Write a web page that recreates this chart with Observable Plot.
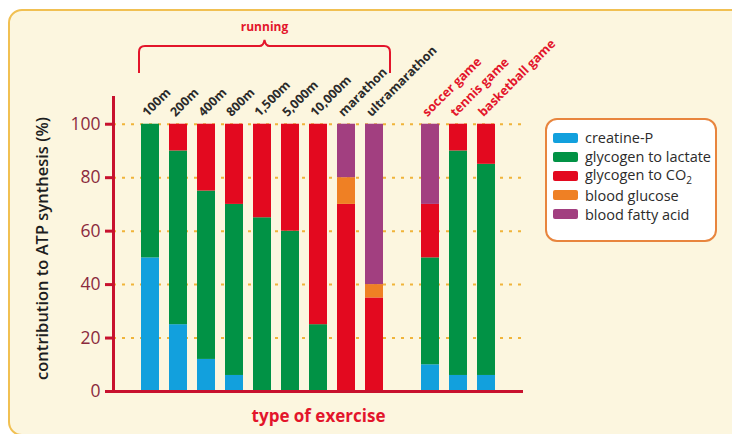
<!DOCTYPE html>
<html>
<head>
<meta charset="utf-8">
<script src="https://cdn.jsdelivr.net/npm/d3@7"></script>
<script src="https://cdn.jsdelivr.net/npm/@observablehq/plot@0.6"></script>
<style>
  html, body { margin: 0; padding: 0; background: #ffffff; width: 732px; height: 434px; overflow: hidden; font-family: "Open Sans", sans-serif; }
  #panel { position: absolute; left: 8px; top: 9px; width: 740px; height: 423px; border: 2px solid #F1C052; border-radius: 14px; background: #FCF6DF; }
  #chart { position: absolute; left: 0; top: 0; }
  #legend { position: absolute; left: 545px; top: 118px; width: 172px; height: 124px; border: 2px solid #E8853E; border-radius: 12px; background: #ffffff; box-sizing: border-box; padding-top: 8px; padding-left: 6px; }
  .item { display: flex; align-items: center; height: 19.2px; font-size: 14.5px; color: #2b2b2b; white-space: nowrap; }
  .sw { width: 25px; height: 10px; border-radius: 2px; margin-right: 7px; flex: none; }
</style>
</head>
<body>
<div id="panel"></div>
<div id="chart"></div>
<div id="legend"></div>
<script>
// ---- data ----
const activities = ["100m","200m","400m","800m","1,500m","5,000m","10,000m","marathon","ultramarathon","soccer game","tennis game","basketball game"];
const sports = ["soccer game","tennis game","basketball game"];
const xDomain = ["100m","200m","400m","800m","1,500m","5,000m","10,000m","marathon","ultramarathon"," ","soccer game","tennis game","basketball game"];
const sources = ["creatine-P","glycogen to lactate","glycogen to CO2","blood glucose","blood fatty acid"];
const sourceLabels = ["creatine-P","glycogen to lactate","glycogen to CO<sub style=\"font-size:10px\">2</sub>","blood glucose","blood fatty acid"];
const colors = ["#12A0DD","#019245","#E3091F","#EF8024","#A23F80"];
const creatineP      = [50, 25, 12,  6,  0,  0,  0,  0,  0, 10,  6,  6];
const glycogenLactate= [50, 65, 63, 64, 65, 60, 25,  0,  0, 40, 84, 79];
const glycogenCO2    = [ 0, 10, 25, 30, 35, 40, 75, 70, 35, 20, 10, 15];
const bloodGlucose   = [ 0,  0,  0,  0,  0,  0,  0, 10,  5,  0,  0,  0];
const bloodFattyAcid = [ 0,  0,  0,  0,  0,  0,  0, 20, 60, 30,  0,  0];
const yTicks = [0, 20, 40, 60, 80, 100];
const gridTicks = [20, 40, 60, 80, 100];

const series = [creatineP, glycogenLactate, glycogenCO2, bloodGlucose, bloodFattyAcid];
const rows = [];
activities.forEach((a, i) => {
  series.forEach((s, j) => {
    if (s[i] > 0) rows.push({activity: a, source: sources[j], value: s[i]});
  });
});

const red = "#C8112E";
const chart = Plot.plot({
  width: 732,
  height: 434,
  marginLeft: 113,
  marginRight: 209,
  marginTop: 97,
  marginBottom: 43,
  style: {background: "transparent", fontFamily: "Open Sans, sans-serif", overflow: "visible"},
  x: {type: "band", domain: xDomain, paddingInner: 0.366, paddingOuter: 0.897, axis: null},
  y: {domain: [0, 110], ticks: yTicks, tickSize: 8, tickPadding: 5, label: null},
  color: {domain: sources, range: colors},
  marks: [
    Plot.ruleY(gridTicks, {stroke: "#F0B43A", strokeWidth: 2, strokeDasharray: "3,6"}),
    Plot.barY(rows, {x: "activity", y: "value", fill: "source", order: sources}),
    Plot.ruleY([0], {stroke: red, strokeWidth: 3}),
    Plot.frame({anchor: "left", stroke: red, strokeWidth: 3}),
    Plot.text(activities, {x: d => d, y: 100, dx: -3, dy: -7, rotate: -45, textAnchor: "start", lineAnchor: "bottom",
      fontSize: 12.5, fontWeight: "bold", fill: d => sports.includes(d) ? "#E3152B" : "#2a2a2a"}),
    Plot.text(["contribution to ATP synthesis (%)"], {frameAnchor: "left", textAnchor: "middle", dx: -71, dy: 4, rotate: -90, fontSize: 16.5, fontWeight: 600, fill: "#1e1e1e"}),
    Plot.text(["type of exercise"], {frameAnchor: "bottom", textAnchor: "middle", dy: 30, fontSize: 17, fontWeight: "bold", fill: "#E3152B"})
  ]
});
document.getElementById("chart").appendChild(chart);

const svg = d3.select(chart);
// style y axis ticks and labels
svg.selectAll("[aria-label^='y-axis'] path, [aria-label^='y-axis'] line")
  .attr("stroke", red).attr("stroke-width", 3).style("stroke", red);
svg.selectAll("[aria-label^='y-axis'] text")
  .attr("fill", "#8B2A3D").style("fill", "#8B2A3D").attr("font-size", 17.5).style("font-size", "17.5px");
svg.selectAll("[aria-label^='y-axis'] .domain").remove();

// brace over the running events
const sx = chart.scale("x");
const left = sx.apply("100m") - 2;
const right = sx.apply("ultramarathon") + sx.bandwidth + 7;
const mid = (left + right) / 2;
const yTop = 46, yBot = 73, r = 6;
const pathD = `M${left},${yBot} L${left},${yTop + r} Q${left},${yTop} ${left + r},${yTop} L${mid - 5},${yTop} Q${mid - 1},${yTop} ${mid},${yTop - 6} Q${mid + 1},${yTop} ${mid + 5},${yTop} L${right - r},${yTop} Q${right},${yTop} ${right},${yTop + r} L${right},${yBot}`;
svg.append("path").attr("d", pathD).attr("fill", "none").attr("stroke", "#E3152B").attr("stroke-width", 2);
svg.append("text").attr("x", mid).attr("y", 31).attr("text-anchor", "middle")
  .attr("font-size", 12).attr("font-weight", "bold").attr("fill", "#E3152B").text("running");

// legend
const legend = document.getElementById("legend");
sources.forEach((s, i) => {
  const div = document.createElement("div");
  div.className = "item";
  div.innerHTML = `<span class="sw" style="background:${colors[i]}"></span><span>${sourceLabels[i]}</span>`;
  legend.appendChild(div);
});
</script>
</body>
</html>
